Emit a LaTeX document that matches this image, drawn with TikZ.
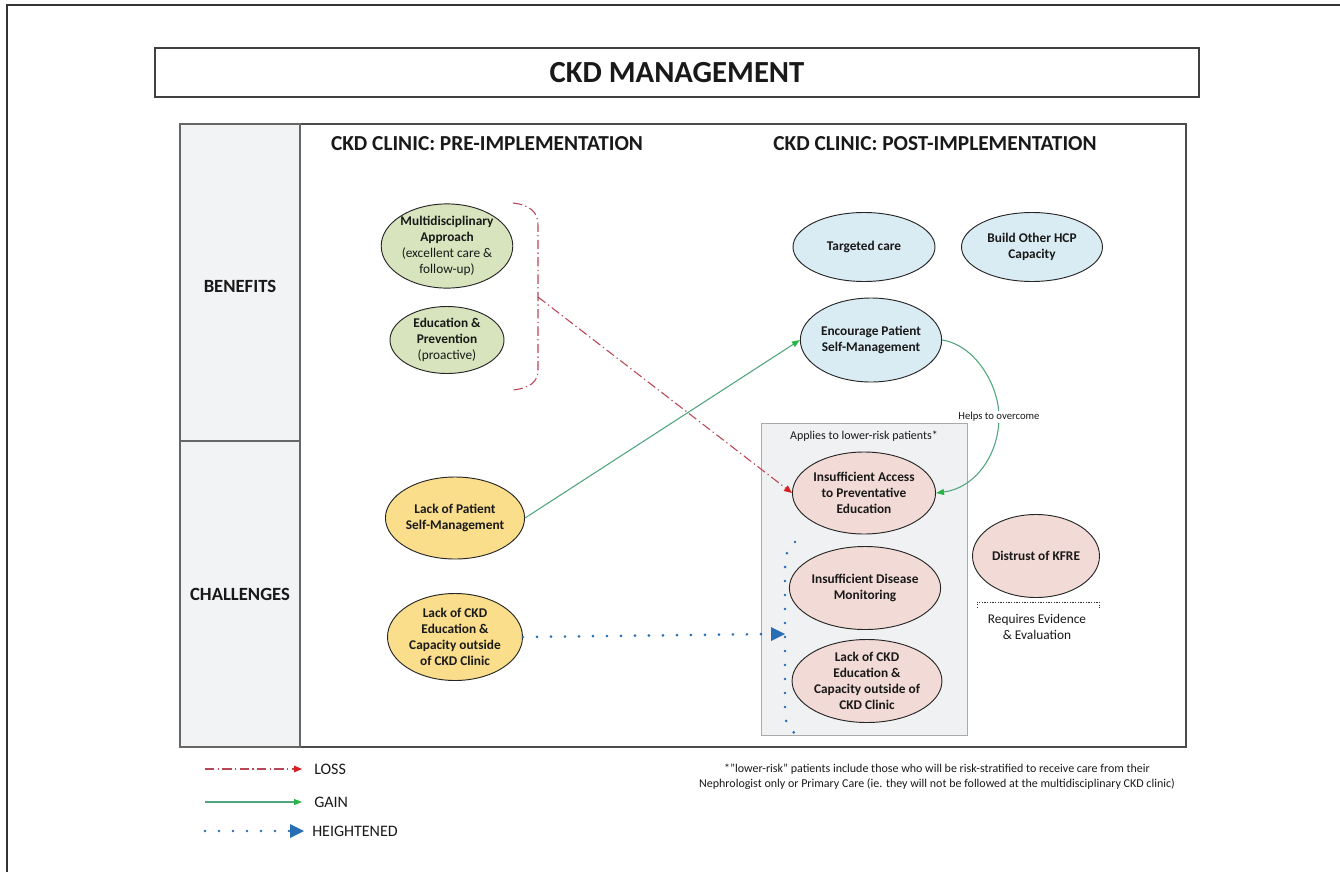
\documentclass[tikz,border=0pt]{standalone}
\usepackage{fontspec}
\setmainfont{Carlito}
\usetikzlibrary{shapes.geometric,arrows.meta}
\definecolor{greenfill}{RGB}{215,228,189}
\definecolor{bluefill}{RGB}{218,236,243}
\definecolor{yellowfill}{RGB}{250,222,140}
\definecolor{pinkfill}{RGB}{242,219,214}
\definecolor{colfill}{RGB}{242,243,245}
\definecolor{boxfill}{RGB}{240,241,242}
\definecolor{boxline}{RGB}{170,170,170}
\definecolor{lossline}{RGB}{185,70,85}
\definecolor{losstip}{RGB}{220,30,35}
\definecolor{gainline}{RGB}{80,165,125}
\definecolor{gaintip}{RGB}{40,180,70}
\definecolor{heightblue}{RGB}{40,110,180}
\definecolor{textdark}{RGB}{25,25,25}
\tikzset{
  oval/.style={ellipse, draw=black!85, line width=0.7pt, inner sep=0pt, align=center,
    text=textdark, font=\fontsize{10}{12}\selectfont\bfseries},
  greenoval/.style={oval, fill=greenfill},
  blueoval/.style={oval, fill=bluefill},
  yellowoval/.style={oval, fill=yellowfill},
  pinkoval/.style={oval, fill=pinkfill},
  hdr/.style={font=\fontsize{16}{18}\selectfont\bfseries, text=textdark},
  rowlbl/.style={font=\fontsize{14}{16}\selectfont\bfseries, text=textdark},
  smalltxt/.style={font=\fontsize{8}{10}\selectfont, text=textdark},
  legtxt/.style={font=\fontsize{12}{14}\selectfont, text=textdark, anchor=west, inner sep=0pt},
  loss/.style={draw=lossline, line width=0.8pt, dash pattern=on 7pt off 2.5pt on 1pt off 2.5pt,
    -{Triangle[length=6pt,width=5pt,fill=losstip,color=losstip]}},
  gain/.style={draw=gainline, line width=0.8pt,
    -{Triangle[length=6pt,width=4.5pt,fill=gaintip,color=gaintip]}},
  heighten/.style={draw=heightblue, line width=2.2pt, line cap=round, dash pattern=on 0pt off 10.5pt},
  heightentip/.style={fill=heightblue, draw=none},
}
\begin{document}
\begin{tikzpicture}[x=0.75pt,y=-0.75pt]
\useasboundingbox (0,0) rectangle (1340,872);
% outer page border
\draw[line width=1.2pt, black!80] (7,872) -- (7,5) -- (1340,5);
% title box
\node[draw=black!75, line width=0.8pt, minimum width=1044*0.75pt, minimum height=49*0.75pt, inner sep=0pt,
  font=\fontsize{23}{25}\selectfont\bfseries, text=textdark] (title) at (677,72.5) {CKD MANAGEMENT};
% main frame
\draw[black!70, line width=0.8pt, fill=white] (180,124) rectangle (1186,747);
\draw[black!60, line width=0.8pt, fill=colfill] (180,124) rectangle (300,441);
\draw[black!60, line width=0.8pt, fill=colfill] (180,441) rectangle (300,747);
\node[rowlbl] (benefits) at (240,286) {BENEFITS};
\node[rowlbl] (challenges) at (240,594) {CHALLENGES};
\node[hdr] (pre) at (487,144) {CKD CLINIC: PRE-IMPLEMENTATION};
\node[hdr] (post) at (935,144) {CKD CLINIC: POST-IMPLEMENTATION};
% gray box
\node[draw=boxline, fill=boxfill, line width=0.6pt, minimum width=206*0.75pt, minimum height=312*0.75pt, inner sep=0pt] (grbox) at (864,579) {};
\node[smalltxt, font=\fontsize{9}{11}\selectfont] (applies) at (864,436) {Applies to lower-risk patients*};
% pre-implementation ovals
\node[greenoval, minimum width=114*0.75pt, minimum height=68*0.75pt] (multi) at (447,246)
  {Multidisciplinary\\Approach\\\mdseries(excellent care \&\\\mdseries follow-up)};
\node[greenoval, minimum width=114*0.75pt, minimum height=67*0.75pt] (edu) at (447,340)
  {Education \&\\Prevention\\\mdseries(proactive)};
\node[yellowoval, minimum width=135*0.75pt, minimum height=82*0.75pt] (lackpat) at (455,518)
  {Lack of Patient\\Self-Management};
\node[yellowoval, minimum width=135*0.75pt, minimum height=87*0.75pt] (lackckdl) at (455,637)
  {Lack of CKD\\Education \&\\Capacity outside\\of CKD Clinic};
% post-implementation ovals
\node[blueoval, minimum width=142*0.75pt, minimum height=69*0.75pt] (target) at (864,247) {Targeted care};
\node[blueoval, minimum width=141*0.75pt, minimum height=69*0.75pt] (build) at (1032,247) {Build Other HCP\\Capacity};
\node[blueoval, minimum width=136*0.75pt, minimum height=84*0.75pt] (enc) at (871,340) {Encourage Patient\\Self-Management};
\node[pinkoval, minimum width=143*0.75pt, minimum height=82*0.75pt] (insacc) at (864,493) {Insufficient Access\\to Preventative\\Education};
\node[pinkoval, minimum width=143*0.75pt, minimum height=83*0.75pt] (insmon) at (865,588) {Insufficient Disease\\Monitoring};
\node[pinkoval, minimum width=144*0.75pt, minimum height=83*0.75pt] (lackckdr) at (867,681) {Lack of CKD\\Education \&\\Capacity outside of\\CKD Clinic};
\node[pinkoval, minimum width=127*0.75pt, minimum height=83*0.75pt] (kfre) at (1036,556) {Distrust of KFRE};
% requires evidence bracket
\coordinate (rq1) at (977,608);
\coordinate (rq2) at (977,602);
\coordinate (rq3) at (1099,602);
\coordinate (rq4) at (1099,608);
\draw[black!80, line width=0.6pt, dash pattern=on 1pt off 1pt] (rq1) -- (rq2) -- (rq3) -- (rq4);
\node[font=\fontsize{10}{12}\selectfont, text=textdark, align=center] (req) at (1037,627) {Requires Evidence\\\& Evaluation};
% loss bracket and arrow
\coordinate (brt) at (513,203);
\coordinate (brm) at (538,297);
\coordinate (brb) at (513,390);
\draw[draw=lossline, line width=0.8pt, dash pattern=on 7pt off 2.5pt on 1pt off 2.5pt]
  (brt) .. controls (530,205) and (538,212) .. (538,225) -- (538,370) .. controls (538,382) and (530,388) .. (brb);
\draw[loss] (brm) -- (insacc.west);
% gain arrows
\draw[gain] (lackpat.east) -- (enc.west);
\coordinate (hlc) at (999,417);
\draw[gain] (enc.east) .. controls (975,345) and (999,385) .. (hlc) .. controls (999,455) and (975,488) .. (insacc.east);
\node[smalltxt, fill=white, inner sep=1pt] (helps) at (hlc) {Helps to overcome};
% heightened arrow
\coordinate (htip) at (773,634);
\draw[heighten] (lackckdl.east) -- (htip);
\fill[heightentip] (htip) ++(-2,-7) -- ++(14,7) -- ++(-14,7) -- cycle;
% heightened dotted bracket
\coordinate (hb1) at (795,542);
\coordinate (hb2) at (798,735);
\draw[heighten] (hb1) .. controls (787,548) and (785,556) .. (785,570) -- (785,712) .. controls (785,724) and (790,731) .. (hb2);
% footnote
\node[smalltxt, align=center, font=\fontsize{9}{11.5}\selectfont] (foot) at (937,777)
  {*"lower-risk" patients include those who will be risk-stratified to receive care from their\\Nephrologist only or Primary Care (ie. they will not be followed at the multidisciplinary CKD clinic)};
% legend
\node[legtxt] (lloss) at (314,769) {LOSS};
\node[legtxt] (lgain) at (314,802) {GAIN};
\node[legtxt] (lhigh) at (312,831) {HEIGHTENED};
\coordinate (ls1) at (205,769);
\coordinate (ls2) at (205,802);
\coordinate (ls3) at (205,831);
\coordinate (lt3) at (292,831);
\draw[loss] (ls1) -- ([xshift=-9pt]lloss.west);
\draw[gain] (ls2) -- ([xshift=-9pt]lgain.west);
\draw[heighten] (ls3) -- (lt3);
\fill[heightentip] (lt3) ++(-2,-7) -- ++(14,7) -- ++(-14,7) -- cycle;
\end{tikzpicture}
\end{document}
